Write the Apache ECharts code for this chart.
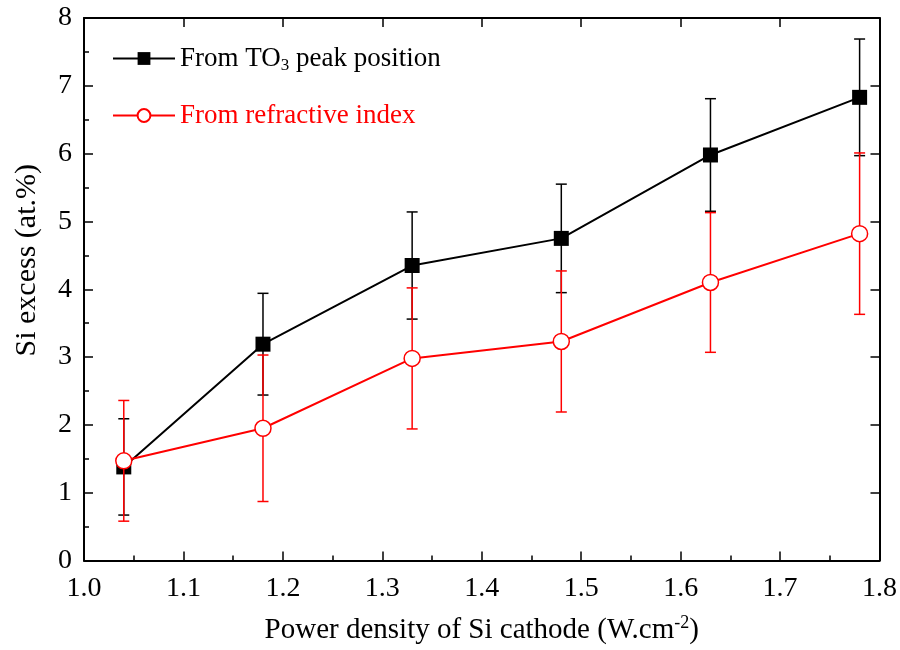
<!DOCTYPE html>
<html><head><meta charset="utf-8">
<script src="https://cdn.jsdelivr.net/npm/echarts@6/dist/echarts.min.js"></script>
<style>html,body{margin:0;padding:0;background:#fff}#c{width:900px;height:650px}</style>
</head><body><div id="c"></div>
<script>
var xValues = [1.04, 1.18, 1.33, 1.48, 1.63, 1.78];
var toPeak = [1.38, 3.19, 4.35, 4.75, 5.98, 6.83];
var toPeakErr = [0.71, 0.75, 0.79, 0.80, 0.83, 0.86];
var refIdx = [1.47, 1.95, 2.98, 3.23, 4.10, 4.82];
var refIdxErr = [0.89, 1.08, 1.04, 1.04, 1.03, 1.19];
var seriesNames = ['From TO3 peak position', 'From refractive index'];

var FONT = '"Liberation Serif", "Times New Roman", serif';
var chart = echarts.init(document.getElementById('c'));

function pts(ys){ return xValues.map(function(x,i){ return [x, ys[i]]; }); }
function errPts(ys, es){ return xValues.map(function(x,i){ return [x, ys[i]-es[i], ys[i]+es[i]]; }); }
function errRender(color){
  return function(params, api){
    var lo = api.coord([api.value(0), api.value(1)]);
    var hi = api.coord([api.value(0), api.value(2)]);
    var w = 5.5;
    var st = {stroke: color, lineWidth: 1.5};
    return {type:'group', children:[
      {type:'line', shape:{x1:lo[0], y1:lo[1], x2:hi[0], y2:hi[1]}, style:st},
      {type:'line', shape:{x1:lo[0]-w, y1:lo[1], x2:lo[0]+w, y2:lo[1]}, style:st},
      {type:'line', shape:{x1:hi[0]-w, y1:hi[1], x2:hi[0]+w, y2:hi[1]}, style:st}
    ]};
  };
}

function ax(extra, minor){
  return Object.assign({
    axisLine:{show:true, onZero:false, lineStyle:{color:'#000', width:2}},
    axisTick:{show:true, inside:true, length:9, lineStyle:{color:'#000', width:1.5}},
    minorTick:{show:!!minor, splitNumber:2, length:5, lineStyle:{color:'#000', width:1.5}},
    splitLine:{show:false}, minorSplitLine:{show:false}
  }, extra);
}

chart.setOption({
  animation:false,
  backgroundColor:'#fff',
  grid:{left:84, right:20, top:18, bottom:86},
  legend:{
    orient:'vertical', left:107, top:40, itemGap:28,
    itemWidth:62, itemHeight:16,
    data:[
      {name:seriesNames[0]},
      {name:seriesNames[1]}
    ],
    formatter:function(n){
      if(n === seriesNames[0]) return '{a|From TO}{s|3}{a| peak position}';
      return '{r|From refractive index}';
    },
    textStyle:{fontFamily:FONT, fontSize:27,
      rich:{
        a:{fontFamily:FONT, fontSize:27, color:'#000'},
        s:{fontFamily:FONT, fontSize:17, color:'#000', padding:[14,0,0,0]},
        r:{fontFamily:FONT, fontSize:27, color:'#ff0000'}
      }
    }
  },
  xAxis:[
    ax({type:'value', min:1.0, max:1.8, interval:0.1, position:'bottom',
      axisLabel:{color:'#000', fontFamily:FONT, fontSize:28, margin:14, formatter:function(v){return v.toFixed(1);}},
      name:'{a|Power density of Si cathode (W.cm}{s|-2}{a|)}', nameLocation:'middle', nameGap:54,
      nameTextStyle:{color:'#000', fontFamily:FONT, fontSize:29,
        rich:{a:{fontFamily:FONT, fontSize:29, color:'#000'}, s:{fontFamily:FONT, fontSize:18, color:'#000', padding:[0,0,14,0]}}}
    }, true),
    ax({type:'value', min:1.0, max:1.8, interval:0.1, position:'top', axisLabel:{show:false}}, false)
  ],
  yAxis:[
    ax({type:'value', min:0, max:8, interval:1, position:'left',
      axisLabel:{color:'#000', fontFamily:FONT, fontSize:28, margin:12, padding:[5,0,0,0]},
      name:'Si excess (at.%)', nameLocation:'middle', nameGap:42,
      nameTextStyle:{color:'#000', fontFamily:FONT, fontSize:30, padding:[0,0,0,58]}
    }, true),
    ax({type:'value', min:0, max:8, interval:1, position:'right', axisLabel:{show:false}}, false)
  ],
  series:[
    {type:'custom', name:'errA', renderItem:errRender('#000'), data:errPts(toPeak, toPeakErr), z:2, silent:true},
    {type:'line', name:seriesNames[0], data:pts(toPeak), symbol:'rect', symbolSize:15,
      itemStyle:{color:'#000'}, lineStyle:{color:'#000', width:2}, z:3},
    {type:'custom', name:'errB', renderItem:errRender('#ff0000'), data:errPts(refIdx, refIdxErr), z:4, silent:true},
    {type:'line', name:seriesNames[1], data:pts(refIdx), symbol:'circle', symbolSize:16,
      itemStyle:{color:'#fff', borderColor:'#ff0000', borderWidth:1.5}, lineStyle:{color:'#ff0000', width:2}, z:5}
  ]
});
</script></body></html>
